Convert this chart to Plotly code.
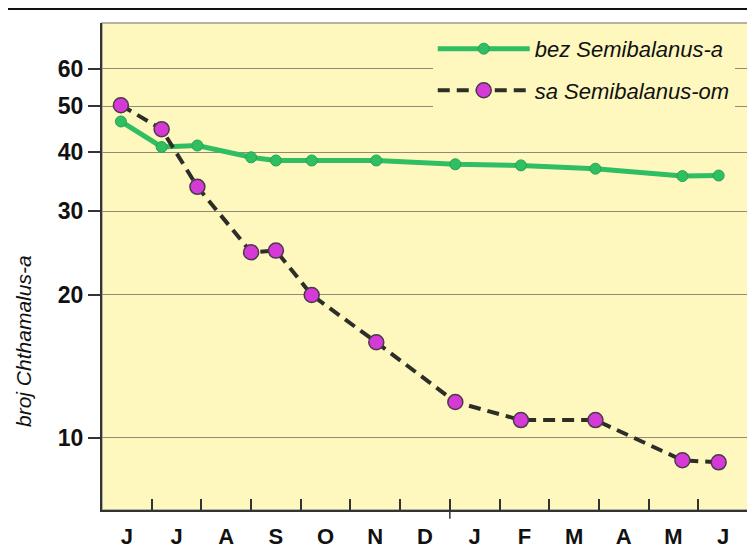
import plotly.graph_objects as go

# ---- data ----
months = ["J", "J", "A", "S", "O", "N", "D", "J", "F", "M", "A", "M", "J"]
month_pos = [i + 0.5 for i in range(len(months))]
month_bounds = list(range(1, len(months)))
sample_pos = [0.38, 1.2, 1.92, 3.0, 3.5, 4.22, 5.52, 7.11, 8.43, 9.93, 11.68, 12.41]
bez_semibalanus = [46.4, 41.0, 41.3, 39.0, 38.4, 38.4, 38.4, 37.7, 37.5, 36.9, 35.6, 35.7]
sa_semibalanus = [50.2, 44.7, 33.8, 24.6, 24.8, 20.0, 15.9, 11.9, 10.9, 10.9, 8.97, 8.88]
y_ticks = [10, 20, 30, 40, 50, 60]
series_names = ["bez Semibalanus-a", "sa Semibalanus-om"]
y_title = "broj Chthamalus-a"

BG = "#FEF8BF"
GREEN = "#30BE62"
MAGENTA = "#D63AD6"

# page body adds an 8px offset; figure sized to fill the rest of the window
W, H = 747, 541
ML, MR, MT, MB = 94, 7, 15, 39
PW = W - ML - MR
PH = H - MT - MB

fig = go.Figure()
fig.add_trace(go.Scatter(
    x=sample_pos, y=bez_semibalanus, name=series_names[0], mode="lines+markers",
    line=dict(color=GREEN, width=5),
    marker=dict(color=GREEN, size=11, line=dict(color="#24A452", width=1)),
    legendgroup="a",
))
fig.add_trace(go.Scatter(
    x=sample_pos, y=sa_semibalanus, name=series_names[1], mode="lines+markers",
    line=dict(color="#2E2E28", width=4, dash="12px,7px"),
    marker=dict(color=MAGENTA, size=15, line=dict(color="#4A3A4A", width=1.5)),
    legendgroup="b",
))

fig.update_layout(
    width=W, height=H,
    margin=dict(l=ML, r=MR, t=MT, b=MB, autoexpand=False),
    paper_bgcolor="white",
    plot_bgcolor=BG,
    font=dict(family="Liberation Sans, Arial, sans-serif", color="#111"),
    showlegend=True,
    legend=dict(
        x=0.512, y=0.99, xanchor="left", yanchor="top",
        bgcolor=BG, borderwidth=0,
        font=dict(size=22, style="italic", color="#111"),
        itemwidth=92, tracegroupgap=10,
    ),
    xaxis=dict(
        range=[0, 13], tickmode="array", tickvals=month_pos, ticktext=months,
        ticks="", showgrid=False, zeroline=False,
        showline=True, linecolor="#333", linewidth=2,
        tickfont=dict(size=22, weight="bold", color="#111"),
        ticklabelstandoff=6, automargin=False,
        minor=dict(tickmode="array", tickvals=month_bounds, ticks="inside",
                   ticklen=11, tickwidth=1.5, tickcolor="#333", showgrid=False),
    ),
    yaxis=dict(
        type="log", range=[0.848, 1.874], tickmode="array", tickvals=y_ticks,
        ticktext=[str(v) for v in y_ticks],
        ticks="outside", ticklen=12, tickwidth=2, tickcolor="#333",
        showline=True, linecolor="#333", linewidth=2,
        showgrid=True, gridcolor="#8E8C78", gridwidth=1,
        zeroline=False, automargin=False,
        tickfont=dict(size=23, weight="bold", color="#111"),
        ticklabelstandoff=0,
    ),
    shapes=[
        dict(type="rect", xref="paper", yref="paper", x0=0, x1=1, y0=0, y1=1,
             line=dict(color="#9A9A90", width=1.5), layer="below"),
        dict(type="line", xref="paper", yref="paper", x0=-ML / PW, x1=1 + MR / PW,
             y0=1 + (MT - 1) / PH, y1=1 + (MT - 1) / PH, line=dict(color="#111", width=2)),
        dict(type="line", xref="x", yref="paper", x0=7, x1=7, y0=-0.018, y1=0.0,
             line=dict(color="#333", width=1.5)),
    ],
    annotations=[
        dict(text=y_title, xref="paper", yref="paper", x=-79 / PW, y=(510 - 341) / PH,
             textangle=-90, showarrow=False, xanchor="center", yanchor="middle",
             font=dict(size=21, style="italic", color="#111")),
    ],
)

fig.write_html("out.html")
